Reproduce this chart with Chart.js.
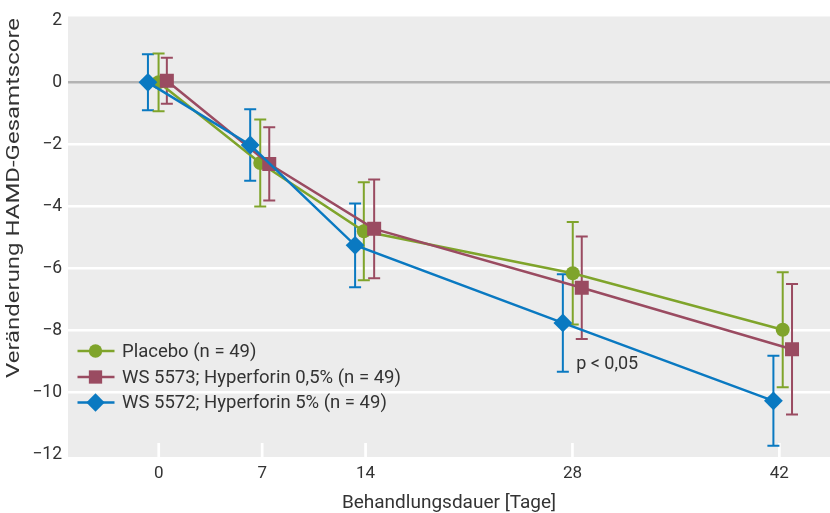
<!DOCTYPE html>
<html>
<head>
<meta charset="utf-8">
<script src="https://cdn.jsdelivr.net/npm/chart.js@4/dist/chart.umd.min.js"></script>
<style>
html,body{margin:0;padding:0;background:#fff;}
canvas{display:block;}
</style>
</head>
<body>
<canvas id="c" width="830" height="513"></canvas>
<script>
// ---- data ----
const dayTicks = [0, 7, 14, 28, 42];
const yTicks = [2, 0, -2, -4, -6, -8, -10, -12];

const seriesNames = ["Placebo (n = 49)", "WS 5573; Hyperforin 0,5% (n = 49)", "WS 5572; Hyperforin 5% (n = 49)"];
const xTitle = "Behandlungsdauer [Tage]";
const yTitle = "Veränderung HAMD-Gesamtscore";

// Placebo
const xPlacebo   = [-0.01, 6.87, 13.88, 28.02, 42.23];
const yPlacebo   = [0.0, -2.6, -4.8, -6.15, -7.97];
const errPlacebo = [0.93, 1.4, 1.58, 1.65, 1.85];

// WS 5573; Hyperforin 0,5%
const xWS5573   = [0.55, 7.48, 14.58, 28.63, 42.86];
const yWS5573   = [0.05, -2.63, -4.72, -6.62, -8.6];
const errWS5573 = [0.74, 1.18, 1.59, 1.65, 2.1];

// WS 5572; Hyperforin 5%
const xWS5572   = [-0.73, 6.19, 13.29, 27.35, 41.6];
const yWS5572   = [0.0, -2.02, -5.25, -7.75, -10.26];
const errWS5572 = [0.9, 1.15, 1.35, 1.57, 1.45];

const annotationText = "p < 0,05";
const annotationPos = {x: 28.25, y: -9.08};

// ---- styles ----
const colors = ["#7fa42b", "#9a4b61", "#0a79c1"];
const styles = ["circle", "rect", "rectRot"];
const radii = [7, 9.9, 9.4];
const FONT = "Roboto, 'Open Sans', sans-serif";
const TEXT = "#333333";

function pts(xs, ys) { return xs.map((x, i) => ({x: x, y: ys[i]})); }

function fmt(v) { return v < 0 ? "\u2212" + Math.abs(v) : String(v); }

const bgPlugin = {
  id: "bg",
  beforeDraw(chart) {
    const a = chart.chartArea, ctx = chart.ctx;
    ctx.save();
    ctx.fillStyle = "#ececec";
    ctx.fillRect(a.left, a.top, a.right - a.left, a.bottom - a.top);
    ctx.restore();
  },
  afterDraw(chart) {
    // rotated y-axis title, stretched along its length as in the reference
    const ctx = chart.ctx;
    ctx.save();
    ctx.fillStyle = TEXT;
    ctx.font = "18.5px " + FONT;
    ctx.textBaseline = "middle";
    ctx.textAlign = "center";
    const top = 18, bottom = 378;
    const w = ctx.measureText(yTitle).width;
    ctx.translate(14, (top + bottom) / 2);
    ctx.rotate(-Math.PI / 2);
    ctx.scale((bottom - top) / w, 1);
    ctx.fillText(yTitle, 0, 0);
    ctx.restore();
  }
};

const errPlugin = {
  id: "errbars",
  beforeDatasetsDraw(chart) {
    const ctx = chart.ctx, xs = chart.scales.x, ys = chart.scales.y, a = chart.chartArea;
    ctx.save();
    // white tick marks at the bottom of the plot
    ctx.strokeStyle = "#ffffff";
    ctx.lineWidth = 2.7;
    dayTicks.forEach(d => {
      const px = xs.getPixelForValue(d);
      ctx.beginPath();
      ctx.moveTo(px, a.bottom);
      ctx.lineTo(px, a.bottom - 14);
      ctx.stroke();
    });
    // error bars, drawn in reverse so blue is on top
    for (let i = chart.data.datasets.length - 1; i >= 0; i--) {
      const ds = chart.data.datasets[i];
      ctx.strokeStyle = ds.borderColor;
      ctx.lineWidth = 2;
      ds.data.forEach((p, j) => {
        const e = ds.errors[j];
        const px = xs.getPixelForValue(p.x);
        const t = ys.getPixelForValue(p.y + e);
        const b = ys.getPixelForValue(p.y - e);
        ctx.beginPath();
        ctx.moveTo(px, t); ctx.lineTo(px, b);
        ctx.moveTo(px - 6, t); ctx.lineTo(px + 6, t);
        ctx.moveTo(px - 6, b); ctx.lineTo(px + 6, b);
        ctx.stroke();
      });
    }
    ctx.restore();
  }
};

function drawMarker(ctx, style, x, y, r) {
  ctx.beginPath();
  if (style === "circle") {
    ctx.arc(x, y, r, 0, Math.PI * 2);
  } else if (style === "rect") {
    const s = r * Math.SQRT1_2;
    ctx.rect(x - s, y - s, 2 * s, 2 * s);
  } else {
    ctx.moveTo(x - r, y); ctx.lineTo(x, y - r); ctx.lineTo(x + r, y); ctx.lineTo(x, y + r);
    ctx.closePath();
  }
  ctx.fill();
}

const legendPlugin = {
  id: "customLegend",
  afterDatasetsDraw(chart) {
    const ctx = chart.ctx, a = chart.chartArea, xs = chart.scales.x, ys = chart.scales.y;
    ctx.save();
    const rowsY = [351, 377, 402.5];
    const lx0 = a.left + 9.5, lx1 = a.left + 46.5, mx = a.left + 27.5, tx = a.left + 54;
    const lr = [6.7, 9.4, 9.2];
    seriesNames.forEach((name, i) => {
      const y = rowsY[i];
      ctx.strokeStyle = colors[i];
      ctx.fillStyle = colors[i];
      ctx.lineWidth = 2.5;
      ctx.beginPath(); ctx.moveTo(lx0, y); ctx.lineTo(lx1, y); ctx.stroke();
      drawMarker(ctx, styles[i], mx, y, lr[i]);
      ctx.fillStyle = TEXT;
      ctx.font = "18.5px " + FONT;
      ctx.textBaseline = "middle";
      ctx.textAlign = "left";
      ctx.fillText(name, tx, y + 1);
    });
    // annotation
    ctx.fillStyle = TEXT;
    ctx.font = "18px " + FONT;
    ctx.textBaseline = "middle";
    ctx.textAlign = "left";
    ctx.fillText(annotationText, xs.getPixelForValue(annotationPos.x), ys.getPixelForValue(annotationPos.y));
    ctx.restore();
  }
};

function mkDataset(i, xs, ys, er, order) {
  return {
    label: seriesNames[i],
    data: pts(xs, ys),
    errors: er,
    borderColor: colors[i],
    backgroundColor: colors[i],
    pointBackgroundColor: colors[i],
    borderWidth: 2.5,
    pointStyle: styles[i],
    pointRadius: radii[i],
    pointHoverRadius: radii[i],
    pointBorderWidth: 0,
    showLine: true,
    tension: 0,
    order: order
  };
}

new Chart(document.getElementById("c"), {
  type: "scatter",
  data: {
    datasets: [
      mkDataset(0, xPlacebo, yPlacebo, errPlacebo, 2),
      mkDataset(1, xWS5573, yWS5573, errWS5573, 1),
      mkDataset(2, xWS5572, yWS5572, errWS5572, 0)
    ]
  },
  options: {
    responsive: false,
    animation: false,
    events: [],
    layout: {autoPadding: false, padding: {top: 15, right: 0, left: 0, bottom: 0}},
    plugins: {legend: {display: false}, tooltip: {enabled: false}},
    scales: {
      x: {
        type: "linear",
        min: -6.14,
        max: 45.43,
        afterBuildTicks(s) { s.ticks = dayTicks.map(v => ({value: v})); },
        afterFit(s) { s.height = 56; s.paddingRight = 0; s.paddingLeft = 0; },
        grid: {display: false, drawTicks: false},
        border: {display: false},
        ticks: {
          autoSkip: false, maxRotation: 0, padding: 7,
          color: TEXT, font: {family: FONT, size: 17},
          callback: v => String(v)
        },
        title: {
          display: true, text: xTitle,
          color: TEXT, font: {family: FONT, size: 19, lineHeight: 0.95},
          padding: {top: 0, bottom: 1}
        }
      },
      y: {
        type: "linear",
        min: -12.07,
        max: 2.12,
        afterBuildTicks(s) { s.ticks = yTicks.map(v => ({value: v})); },
        afterFit(s) { s.width = 68; },
        grid: {
          drawTicks: false,
          lineWidth: 2.6,
          color: c => {
            const v = c.tick ? c.tick.value : null;
            if (v === 0) return "#b3b3b3";
            if (v === 2 || v === -12) return "rgba(0,0,0,0)";
            return "#ffffff";
          }
        },
        border: {display: false},
        ticks: {
          padding: 6, color: TEXT, font: {family: FONT, size: 17.5},
          callback: v => fmt(v)
        },
        title: {display: false}
      }
    }
  },
  plugins: [bgPlugin, errPlugin, legendPlugin]
});
</script>
</body>
</html>
